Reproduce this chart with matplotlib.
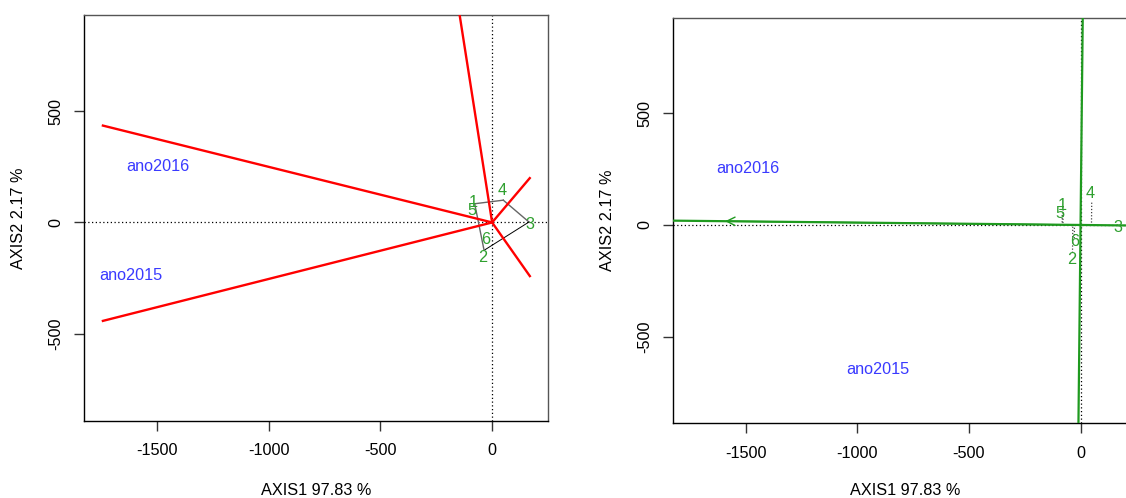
import matplotlib
matplotlib.use("Agg")
import matplotlib.pyplot as plt
import numpy as np

plt.rcParams['font.family'] = ['Liberation Sans', 'DejaVu Sans']

# ---- data ----
genotypes = ["1", "2", "3", "4", "5", "6"]
gen_x = [-78, -36, 165, 50, -82, -28]
gen_y = [84, -125, 2, 100, 45, -60]
lab_x = [-83, -40, 168, 44, -92, -28]
lab_y = [88, -156, -10, 143, 52, -75]

environments = ["ano2016", "ano2015"]
env_left_x = [-1495, -1620]
env_left_y = [252, -237]
env_right_x = [-1491, -909]
env_right_y = [254, -649]

# hull (which-won-where polygon) order by genotype index
hull_order = [0, 3, 2, 1]
# red sector lines: end points from origin
red_x = [-1748, -1748, -175, 172, 172]
red_y = [436, -443, 1120, 203, -245]

# average environment coordinate (ATC)
env_mean = (-1604, 17)

xticks = [-1500, -1000, -500, 0]
yticks = [-500, 0, 500]
xlabel = "AXIS1 97.83 %"
ylabel = "AXIS2 2.17 %"

GREEN_LINE = "#1f9a1f"
GREEN_TXT = "#2fa02f"
BLUE = "#3a3aff"
FS = 11.7

fig = plt.figure(figsize=(11.26, 4.98), dpi=100)
W, H = 1126, 498
axL = fig.add_axes([83.9 / W, (H - 421) / H, 463.6 / W, 406 / H])
axR = fig.add_axes([673 / W, (H - 423.3) / H, 463.6 / W, 405.6 / H])


def style(ax, xlim, ylim, xpad):
    ax.set_xlim(*xlim)
    ax.set_ylim(*ylim)
    ax.set_xticks(xticks)
    ax.set_xticklabels([str(t) for t in xticks], fontsize=FS)
    ax.set_yticks(yticks)
    ax.set_yticklabels([str(t) for t in yticks], fontsize=FS, rotation=90, va='center')
    ax.tick_params(axis='both', direction='out', length=7, width=1, color='#333333')
    ax.tick_params(axis='x', pad=9)
    ax.tick_params(axis='y', pad=8)
    ax.set_xlabel(xlabel, fontsize=FS, labelpad=xpad)
    ax.set_ylabel(ylabel, fontsize=FS, labelpad=16)
    for s in ['bottom', 'left']:
        ax.spines[s].set_color('black')
        ax.spines[s].set_linewidth(1.0)
    for s in ['top', 'right']:
        ax.spines[s].set_color('#555555')
        ax.spines[s].set_linewidth(1.0)
    ax.axhline(0, color='black', lw=0.9, ls=(0, (1, 2)), zorder=1)
    ax.axvline(0, color='black', lw=0.9, ls=(0, (1, 2)), zorder=1)


# ---- left panel: which-won-where ----
style(axL, (-1828, 248), (-891, 931), 18)
for ex, ey in zip(red_x, red_y):
    axL.plot([0, ex], [0, ey], color='red', lw=1.7, zorder=3, solid_capstyle='butt')
# gray sides except 3->2 which is thin black
for k in range(len(hull_order)):
    i, j = hull_order[k], hull_order[(k + 1) % len(hull_order)]
    col, lw = ('black', 0.7) if (i, j) == (2, 1) else ('#666666', 1.0)
    axL.plot([gen_x[i], gen_x[j]], [gen_y[i], gen_y[j]], color=col, lw=lw, zorder=2)
for g, lx, ly in zip(genotypes, lab_x, lab_y):
    axL.text(lx, ly, g, color=GREEN_TXT, fontsize=FS, ha='center', va='center', zorder=4)
for e, ex, ey in zip(environments, env_left_x, env_left_y):
    axL.text(ex, ey, e, color=BLUE, fontsize=FS, ha='center', va='center', zorder=4)

# ---- right panel: mean vs stability ----
style(axR, (-1825, 251), (-888, 928), 16)
mx, my = env_mean
axR.axline((0, 0), (mx, my), color=GREEN_LINE, lw=1.6, zorder=3)
axR.axline((0, 0), (my, -mx), color=GREEN_LINE, lw=1.6, zorder=3)
axR.annotate('', xy=(mx, my), xytext=(0, 0),
             arrowprops=dict(arrowstyle='->,head_length=0.6,head_width=0.3',
                             color=GREEN_LINE, lw=1.0), zorder=3)
ux, uy = np.array([mx, my]) / np.hypot(mx, my)
for gx, gy in zip(gen_x, gen_y):
    t = gx * ux + gy * uy
    axR.plot([gx, t * ux], [gy, t * uy], color='#444444', lw=0.9, ls=(0, (1, 1.5)), zorder=2)
for g, lx, ly in zip(genotypes, lab_x, lab_y):
    axR.text(lx, ly, g, color=GREEN_TXT, fontsize=FS, ha='center', va='center', zorder=4)
for e, ex, ey in zip(environments, env_right_x, env_right_y):
    axR.text(ex, ey, e, color=BLUE, fontsize=FS, ha='center', va='center', zorder=4)

fig.savefig("out.png", dpi=100)
